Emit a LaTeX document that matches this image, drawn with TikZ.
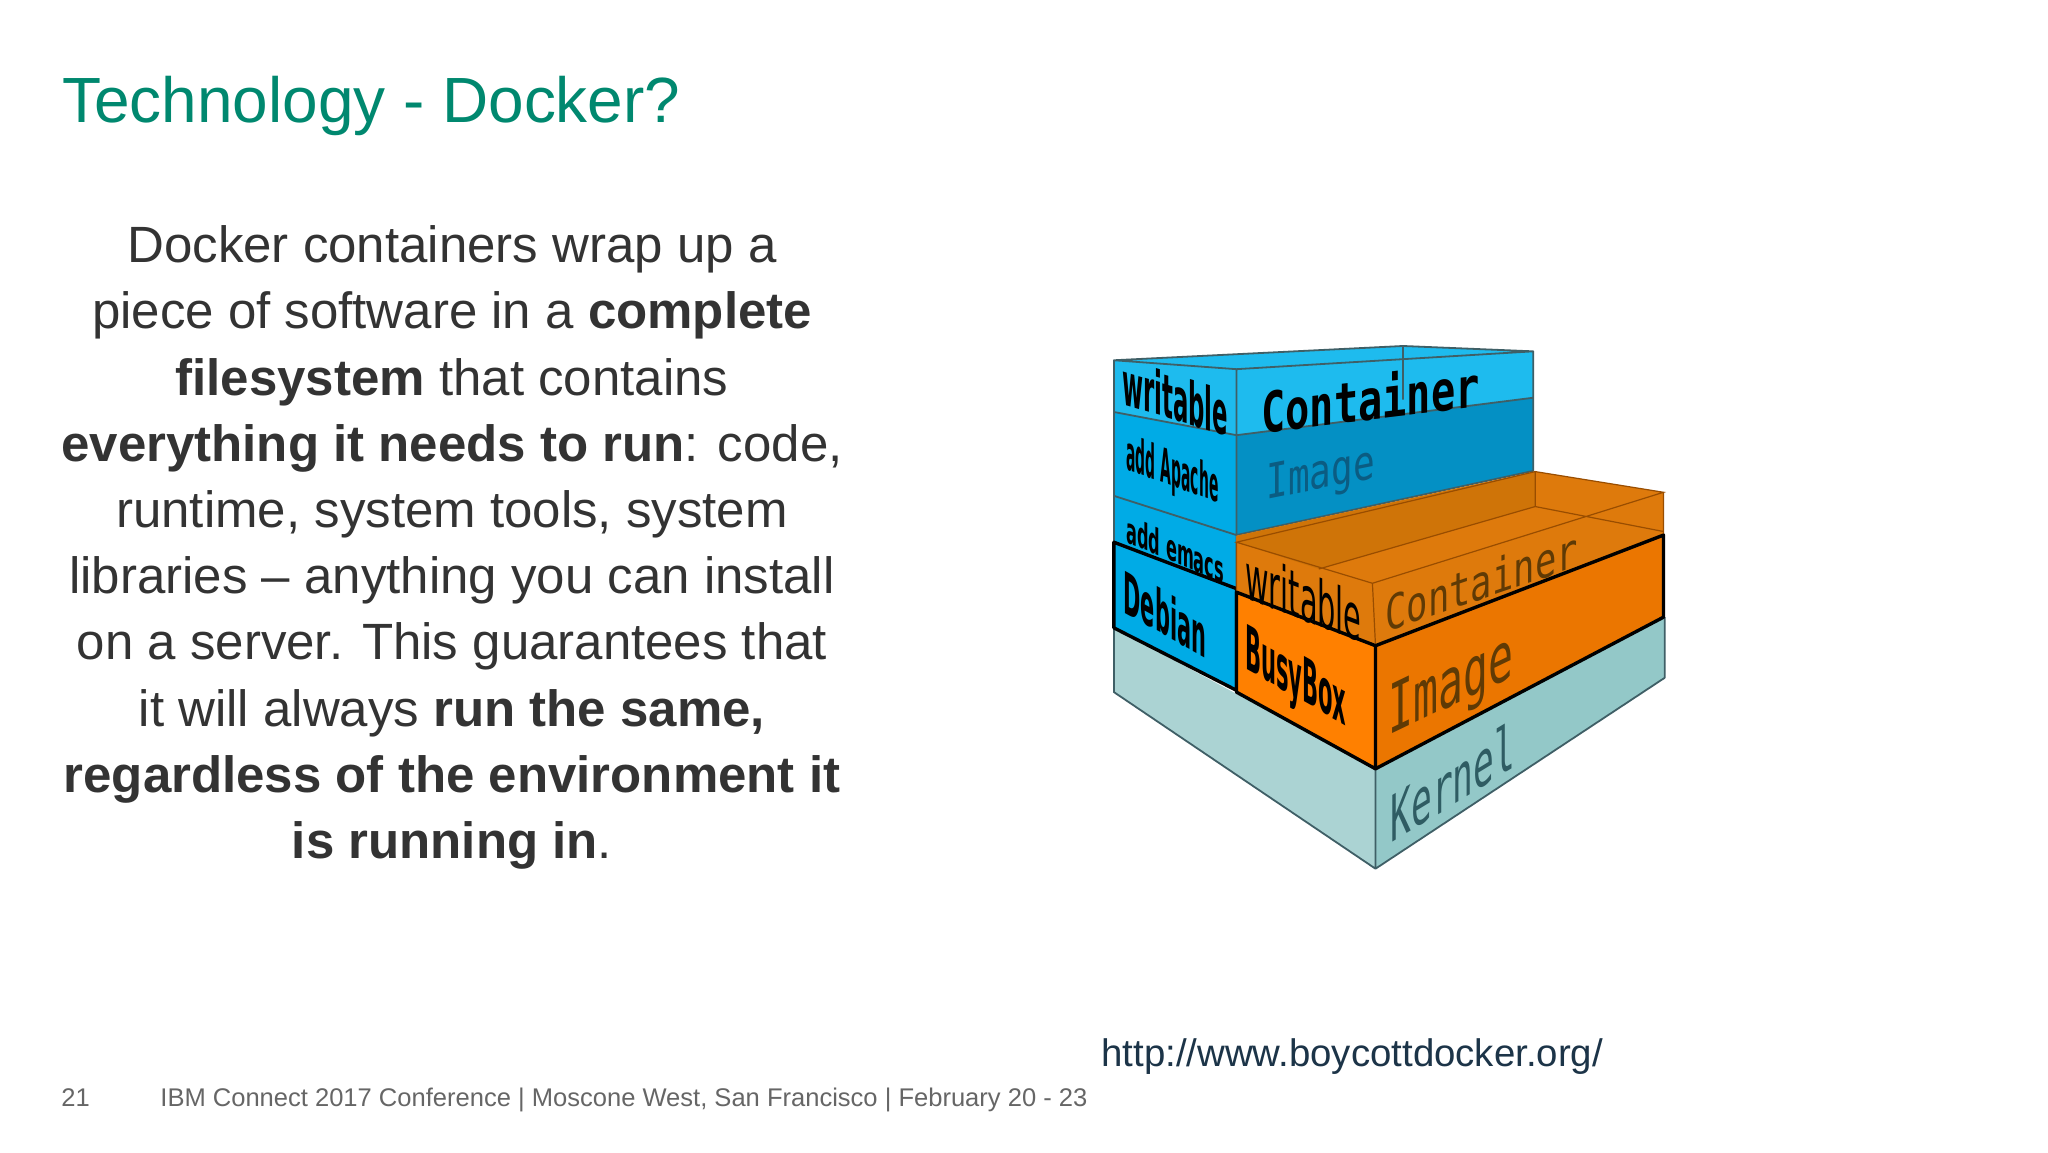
\documentclass[tikz,border=0pt]{standalone}
\usepackage{fontspec}
\setmainfont{Liberation Sans}
\newfontfamily\monof{DejaVu Sans Mono}
\newfontfamily\labf{DejaVu Sans}
\definecolor{teal1}{HTML}{00886F}
\definecolor{body1}{HTML}{333333}
\definecolor{foot1}{HTML}{666666}
\definecolor{url1}{HTML}{1C3448}
\definecolor{blueL}{HTML}{00ABE6}
\definecolor{blueLite}{HTML}{1EBBEE}
\definecolor{blueD}{HTML}{0490C4}
\definecolor{orgF}{HTML}{FF8000}
\definecolor{orgR}{HTML}{EB7600}
\definecolor{orgT}{HTML}{DE7A0C}
\definecolor{orgB}{HTML}{CF7408}
\definecolor{kernL}{HTML}{ABD3D3}
\definecolor{kernR}{HTML}{93C8C8}
\definecolor{edge1}{HTML}{3F5F66}
\definecolor{txtB}{HTML}{0B5C82}
\definecolor{txtO}{HTML}{5F3A05}
\definecolor{txtK}{HTML}{2F5C63}
\tikzset{
 thinE/.style={draw=edge1,line width=.9pt,line join=round},
 thickE/.style={draw=black,line width=1.7pt,line join=round},
 faint/.style={draw=black!35!orgR,line width=.6pt},
 lab/.style={inner sep=0pt,transform shape},
}
\begin{document}
\begin{tikzpicture}[x=0.5pt,y=-0.5pt]
\useasboundingbox (0,0) rectangle (2048,1152);
\fill[white] (0,0) rectangle (2048,1152);
% text
\node[anchor=west,inner sep=0pt,text=teal1,font=\fontsize{31.95}{36}\selectfont] (title) at (62,105.5) {Technology - Docker?};
\node[align=center,inner sep=0pt,text=body1,font=\fontsize{25.5}{33.1}\selectfont] (body) at (452,547.5) {Docker containers wrap up a\\
piece of software in a \textbf{complete}\\
\textbf{filesystem} that contains\\
\textbf{everything it needs to run}: code,\\
runtime, system tools, system\\
libraries – anything you can install\\
on a server. This guarantees that\\
it will always \textbf{run the same,}\\
\textbf{regardless of the environment it}\\
\textbf{is running in}.};
\node[anchor=west,inner sep=0pt,text=url1,font=\fontsize{19.2}{22}\selectfont] (url) at (1101,1056.5) {http://www.boycottdocker.org/};
\node[anchor=base west,inner sep=0pt,text=foot1,font=\fontsize{12.77}{16}\selectfont] (num) at (61,1106) {21};
\node[anchor=base west,inner sep=0pt,text=foot1,font=\fontsize{12.77}{16}\selectfont] (foot) at (160,1106) {IBM Connect 2017 Conference | Moscone West, San Francisco | February 20 - 23};
% diagram: coordinates in zoom space
\begin{scope}[shift={(1089,331.7)},x=0.1915pt,y=-0.1784pt]
% kernel
\coordinate (kA) at (65,830); \coordinate (kB) at (748,1225); \coordinate (kC) at (1503,800);
\coordinate (kD) at (1503,970); \coordinate (kE) at (748,1505); \coordinate (kF) at (65,1010);
\fill[kernL] (kA)--(kB)--(kE)--(kF)--cycle;
\fill[kernR] (kB)--(kC)--(kD)--(kE)--cycle;
\draw[thinE] (kA)--(kF)--(kE)--(kD)--(kC) (kB)--(kE);
% blue stack
\coordinate (b1) at (65,80); \coordinate (b2) at (385,105); \coordinate (b3) at (1160,55); \coordinate (b4) at (820,40);
\coordinate (b5) at (65,225); \coordinate (b6) at (385,290); \coordinate (b7) at (1160,185);
\coordinate (b8) at (65,460); \coordinate (b9) at (385,570); \coordinate (b10) at (1160,390);
\coordinate (b11) at (65,590); \coordinate (b12) at (385,720);
\coordinate (b13) at (65,830); \coordinate (b14) at (385,1005);
\coordinate (b15) at (820,190);
\fill[blueL] (b1)--(b2)--(b14)--(b13)--cycle;
\fill[blueLite] (b1)--(b4)--(b3)--(b7)--(b6)--(b5)--cycle;
\fill[blueD] (b6)--(b7)--(b10)--(b9)--cycle;
\draw[thinE] (b1)--(b4)--(b3)--(b2)--cycle (b2)--(b9) (b5)--(b6)--(b7) (b3)--(b10)--(b9) (b8)--(b9)--(b12) (b1)--(b11) (b4)--(b15);
\draw[thickE] (b11)--(b12)--(b14)--(b13)--cycle;
% orange
\coordinate (o1) at (385,572); \coordinate (o2) at (740,705); \coordinate (o3) at (1500,450); \coordinate (o4) at (1165,392);
\coordinate (o5) at (385,730); \coordinate (o6) at (748,880); \coordinate (o7) at (1500,570);
\coordinate (o8) at (385,1010); \coordinate (o9) at (748,1225); \coordinate (o10) at (1500,800);
\coordinate (o11) at (1165,490); \coordinate (o12) at (600,665); \coordinate (o13) at (1500,560); \coordinate (o14) at (385,590);
\fill[orgF] (o5)--(o6)--(o9)--(o8)--cycle;
\fill[orgR] (o6)--(o7)--(o10)--(o9)--cycle;
\fill[orgT] (o1)--(o4)--(o3)--(o7)--(o6)--(o5)--cycle;
\fill[orgB] (o1)--(o4)--(o11)--(o12)--(o14)--cycle;
\draw[faint] (o4)--(o3)--(o2)--(o14)--(o4) (o2)--(o6) (o3)--(o7) (o14)--(o5) (o4)--(o11)--(o13) (o12)--(o11);
\draw[thickE] (o5)--(o6)--(o7)--(o10)--(o9)--(o8)--cycle (o6)--(o9);
% labels
\node[lab,font=\labf\bfseries\fontsize{30}{30}\selectfont,yslant=-.3,xscale=.38] (l1) at (225,185) {writable};
\node[lab,font=\monof\bfseries\fontsize{28}{28}\selectfont,yslant=.12,xscale=.72] (l2) at (735,185) {Container};
\node[lab,font=\labf\bfseries\fontsize{24}{24}\selectfont,yslant=-.36,xscale=.29] (l3) at (218,395) {add Apache};
\node[lab,font=\monof\fontsize{24}{24}\selectfont,yslant=.2,xscale=.75,text=txtB] (l4) at (605,405) {Image};
\node[lab,font=\labf\bfseries\fontsize{18}{18}\selectfont,yslant=-.42,xscale=.45] (l5) at (225,610) {add emacs};
\node[lab,font=\labf\bfseries\fontsize{29}{29}\selectfont,yslant=-.56,xscale=.36] (l6) at (198,790) {Debian};
\node[lab,font=\labf\fontsize{32}{32}\selectfont,yslant=-.38,xscale=.45] (l7) at (560,742) {writable};
\node[lab,font=\monof\fontsize{24}{24}\selectfont,yslant=.34,xscale=.74,text=txtO] (l8) at (1025,700) {Container};
\node[lab,font=\labf\bfseries\fontsize{31}{31}\selectfont,yslant=-.56,xscale=.34] (l9) at (540,980) {BusyBox};
\node[lab,font=\monof\fontsize{34}{34}\selectfont,yslant=.48,xscale=.61,text=txtO] (l10) at (945,1000) {Image};
\node[lab,font=\monof\fontsize{32}{32}\selectfont,yslant=.61,xscale=.54,text=txtK] (l11) at (950,1260) {Kernel};
\end{scope}
\end{tikzpicture}
\end{document}
